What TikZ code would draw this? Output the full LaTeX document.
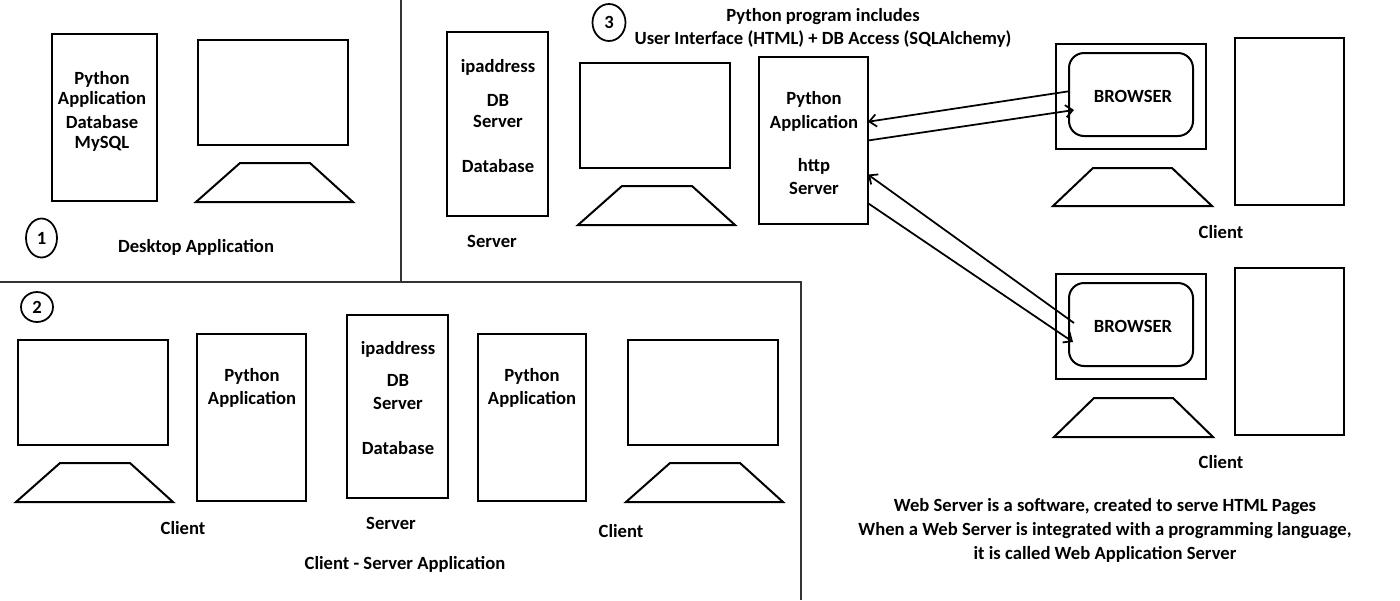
\documentclass[tikz,border=0pt]{standalone}
\usepackage{fontspec}
\setmainfont{Carlito}
\usetikzlibrary{arrows.meta,shapes.geometric}
\tikzset{
    boxnode/.style={draw,line width=.04cm,inner sep=0pt,outer sep=0pt},
    textnode/.style={font=\fontsize{10.6}{13.2}\selectfont\bfseries,align=center,inner sep=0pt},
    numnode/.style={draw,ellipse,line width=.035cm,inner sep=0pt,font=\fontsize{10.6}{12}\selectfont\bfseries},
    panelline/.style={line width=.04cm,draw=black!80},
    linkline/.style={line width=.035cm,->,>={Straight Barb[length=4pt,width=7pt]}},
}
\begin{document}
\begin{tikzpicture}[x=.02cm,y=-.02cm]
    \useasboundingbox (0,0) rectangle (1400,600);

    % Panel borders
    \draw[panelline] (400.5,0) -- (400.5,282);
    \draw[panelline] (0,282) -- (800.5,282) -- (800.5,600);

    % Panel 1: desktop application
    \node[boxnode,minimum width=2.1cm,minimum height=3.34cm] (deskapp) at (104.5,117.5) {};
    \node[textnode] (deskapptext) at (102,111.5) {Python\\[-1.5pt]Application\\Database\\[-1.5pt]MySQL};
    \node[boxnode,minimum width=3cm,minimum height=2.1cm] (deskscreen) at (273,92.5) {};
    \draw[line width=.04cm] (196,202) -- (240,163) -- (310,163) -- (353,202) -- cycle;
    \node[numnode,minimum width=.62cm,minimum height=.78cm] (numone) at (41.5,238) {1};
    \node[textnode] (desklabel) at (196,247) {Desktop Application};

    % Panel 2: client - server application
    \node[numnode,minimum width=.64cm,minimum height=.6cm] (numtwo) at (37,307) {2};
    \node[boxnode,minimum width=3cm,minimum height=2.1cm] (leftscreen) at (93,392.5) {};
    \draw[line width=.04cm] (16,502) -- (60,463) -- (130,463) -- (173,502) -- cycle;
    \node[boxnode,minimum width=2.18cm,minimum height=3.34cm] (leftapp) at (251.5,417.5) {};
    \node[textnode] (leftapptext) at (252,388) {Python\\Application};
    \node[textnode] (leftclient) at (183,528) {Client};
    \node[boxnode,minimum width=2.02cm,minimum height=3.66cm] (dbbox) at (397.5,406.5) {};
    \node[textnode] (dbtext) at (398,398) {ipaddress\\[5pt]DB\\Server\\[12.5pt]Database};
    \node[textnode] (dblabel) at (391,523) {Server};
    \node[boxnode,minimum width=2.16cm,minimum height=3.34cm] (rightapp) at (532,417.5) {};
    \node[textnode] (rightapptext) at (532,388) {Python\\Application};
    \node[boxnode,minimum width=3cm,minimum height=2.1cm] (rightscreen) at (703,392.5) {};
    \draw[line width=.04cm] (626,502) -- (670,463) -- (740,463) -- (783,502) -- cycle;
    \node[textnode] (rightclient) at (621,531) {Client};
    \node[textnode] (cslabel) at (405,564) {Client - Server Application};

    % Panel 3: web application
    \node[numnode,minimum width=.66cm,minimum height=.74cm] (numthree) at (609,22.5) {3};
    \node[textnode] (webtitle) at (823,28) {Python program includes\\User Interface (HTML) + DB Access (SQLAlchemy)};
    \node[boxnode,minimum width=2.02cm,minimum height=3.68cm] (webdb) at (497.5,124) {};
    \node[textnode] (webdbtext) at (498,116) {ipaddress\\[6pt]DB\\[-1pt]Server\\[12.5pt]Database};
    \node[textnode] (webdblabel) at (492,241) {Server};
    \node[boxnode,minimum width=3cm,minimum height=2.1cm] (webscreen) at (655,115.5) {};
    \draw[line width=.04cm] (578,225) -- (622,186) -- (692,186) -- (735,225) -- cycle;
    \node[boxnode,minimum width=2.18cm,minimum height=3.34cm] (webapp) at (813.5,140.5) {};
    \node[textnode] (webapptext) at (814,143) {Python\\[.5pt]Application\\[11.5pt]http\\Server};

    % Upper client
    \node[boxnode,minimum width=3cm,minimum height=2.1cm] (screenA) at (1131,96.5) {};
    \node[boxnode,rounded corners=.3cm,minimum width=2.48cm,minimum height=1.66cm] (browserA) at (1131,94.5) {};
    \node[textnode] (browserAtext) at (1133,96) {BROWSER};
    \draw[line width=.04cm] (1053,206) -- (1093,168) -- (1172,168) -- (1212,206) -- cycle;
    \node[boxnode,minimum width=2.18cm,minimum height=3.34cm] (towerA) at (1289.5,121.5) {};
    \node[textnode] (clientA) at (1221,232) {Client};

    % Lower client
    \node[boxnode,minimum width=3cm,minimum height=2.1cm] (screenB) at (1131,326.5) {};
    \node[boxnode,rounded corners=.3cm,minimum width=2.48cm,minimum height=1.66cm] (browserB) at (1131,324.5) {};
    \node[textnode] (browserBtext) at (1133,326) {BROWSER};
    \draw[line width=.04cm] (1054,437) -- (1094,398) -- (1173,398) -- (1213,437) -- cycle;
    \node[boxnode,minimum width=2.18cm,minimum height=3.34cm] (towerB) at (1289.5,351.5) {};
    \node[textnode] (clientB) at (1221,462) {Client};

    % Links between server and browsers
    \coordinate (linkAin) at (1074,110);
    \coordinate (linkBout) at (1074,323);
    \coordinate (linkBin) at (1073,342);
    \draw[linkline] (browserA.177) -- (webapp.19);
    \draw[linkline] (webapp.east) -- (linkAin);
    \draw[linkline] (linkBout) -- (webapp.-32);
    \draw[linkline] (webapp.-49) -- (linkBin);

    % Notes
    \node[textnode] (webnote) at (1105,530) {Web Server is a software, created to serve HTML Pages\\[1pt]When a Web Server is integrated with a programming language,\\it is called Web Application Server};
\end{tikzpicture}
\end{document}
